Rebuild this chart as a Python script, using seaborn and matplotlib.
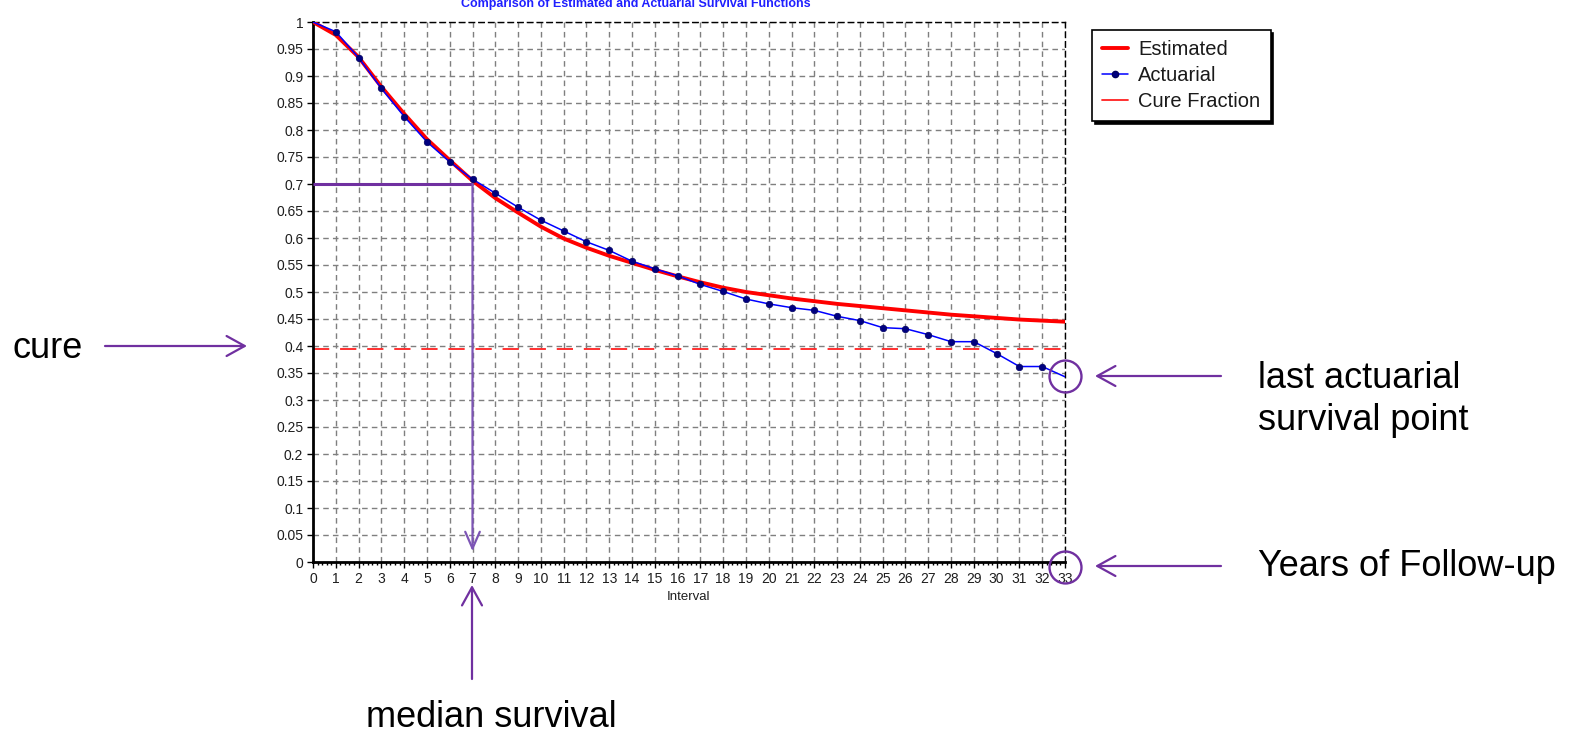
import numpy as np
import pandas as pd
import matplotlib
matplotlib.use("Agg")
import matplotlib.pyplot as plt
import seaborn as sns
from matplotlib.lines import Line2D
from matplotlib.ticker import MultipleLocator
from matplotlib.patches import FancyArrowPatch

# ---------------- data ----------------
intervals = list(range(34))
estimated = [1.0, 0.976, 0.935, 0.880, 0.830, 0.783, 0.744, 0.706, 0.674, 0.647,
             0.621, 0.599, 0.582, 0.567, 0.554, 0.541, 0.529, 0.518, 0.508, 0.500,
             0.494, 0.488, 0.483, 0.478, 0.474, 0.470, 0.466, 0.462, 0.458, 0.455,
             0.452, 0.449, 0.447, 0.445]
actuarial = [1.0, 0.982, 0.934, 0.877, 0.825, 0.778, 0.741, 0.709, 0.683, 0.657,
             0.633, 0.613, 0.593, 0.577, 0.557, 0.543, 0.530, 0.514, 0.501, 0.487,
             0.478, 0.471, 0.466, 0.455, 0.447, 0.434, 0.432, 0.421, 0.408, 0.408,
             0.386, 0.362, 0.362, 0.343]
cure_fraction = 0.395
median_interval = 7
median_level = 0.7
y_ticks = [round(v, 2) for v in np.arange(0, 1.0001, 0.05)]
x_ticks = intervals

title_text = "Comparison of Estimated and Actuarial Survival Functions"
legend_labels = ["Estimated", "Actuarial", "Cure Fraction"]

df = pd.DataFrame({"Interval": intervals, "Estimated": estimated, "Actuarial": actuarial})

# ---------------- style ----------------
sns.set_theme(style="white")
plt.rcParams["font.family"] = ["Liberation Sans", "DejaVu Sans"]

W, H = 1572, 729
fig = plt.figure(figsize=(W / 100, H / 100), dpi=100)
fig.patch.set_facecolor("white")

def fx(px):
    return px / W

def fy(py):
    return 1 - py / H

ax = fig.add_axes([fx(313), fy(562), (1065 - 313) / W, (562 - 22) / H])
ax.set_facecolor("white")

purple = "#7030A0"
red = "#FF0000"
blue = "#0000FF"

# grid
ax.set_xlim(0, 33)
ax.set_ylim(0, 1)
ax.set_xticks(x_ticks)
ax.set_yticks(y_ticks)
ax.set_yticklabels(["%g" % v for v in y_ticks])
ax.xaxis.set_minor_locator(MultipleLocator(0.2))
ax.grid(True, which="major", color="#7f7f7f", linestyle=(0, (4, 3)), linewidth=1.0)
ax.set_axisbelow(True)

# cure fraction line
ax.axhline(cure_fraction, color="#FF2020", linestyle=(0, (9, 6)), linewidth=1.3, zorder=2)

# estimated
sns.lineplot(data=df, x="Interval", y="Estimated", ax=ax, color=red, linewidth=2.8, zorder=3)
# actuarial
sns.lineplot(data=df, x="Interval", y="Actuarial", ax=ax, color=blue, linewidth=1.1, zorder=4)
sns.scatterplot(data=df.iloc[1:33], x="Interval", y="Actuarial", ax=ax, color="#000080",
                s=22, edgecolor="#000060", linewidth=0.5, zorder=5)

# median survival guide lines
ax.plot([0, median_interval], [median_level, median_level], color=purple, linewidth=2.2, zorder=6,
        solid_capstyle="butt")
ax.add_patch(FancyArrowPatch((median_interval, median_level), (median_interval, 0.02),
                             arrowstyle="->,head_length=0.8,head_width=0.35", mutation_scale=15,
                             color="#7d55b5", lw=1.6, shrinkA=0, shrinkB=0, zorder=6))

# spines
for s in ["left", "bottom"]:
    ax.spines[s].set_color("black")
    ax.spines[s].set_linewidth(2.0)
for s in ["top", "right"]:
    ax.spines[s].set_color("black")
    ax.spines[s].set_linewidth(1.0)
    ax.spines[s].set_linestyle((0, (4, 3)))

ax.tick_params(axis="both", which="major", direction="out", length=4, width=1, color="black",
               labelsize=10, labelcolor="#1e1e1e", pad=3, bottom=True, left=True)
ax.tick_params(axis="x", which="minor", direction="out", length=2.5, width=1, color="black",
               bottom=True)
for lab in ax.get_xticklabels() + ax.get_yticklabels():
    lab.set_family(["Liberation Sans Narrow", "Liberation Sans", "DejaVu Sans"])
ax.set_xlabel("Interval", fontsize=9.5, color="#1e1e1e", labelpad=4,
              family=["Liberation Sans Narrow", "Liberation Sans", "DejaVu Sans"])
ax.set_ylabel("")

# legend
handles = [
    Line2D([], [], color=red, linewidth=2.8),
    Line2D([], [], color=blue, linewidth=1.1, marker="o", markersize=4.5,
           markerfacecolor="#000080", markeredgecolor="#000060"),
    Line2D([], [], color="#FF2020", linewidth=1.3),
]
leg = fig.legend(handles, legend_labels, loc="upper left",
                 bbox_to_anchor=(fx(1092), fy(30)), bbox_transform=fig.transFigure,
                 fontsize=14.5, frameon=True, fancybox=False,
                 shadow={"color": "black", "alpha": 1.0},
                 edgecolor="black", framealpha=1, handlelength=1.3,
                 handletextpad=0.5, borderpad=0.5, labelspacing=0.35,
                 borderaxespad=0)
leg.get_frame().set_linewidth(1.2)
for t in leg.get_texts():
    t.set_color("#1a1a1a")

# clipped title at top
fig.text(fx(636), fy(7), title_text, ha="center", va="baseline", fontsize=9,
         color="#2020ff", fontweight="bold")

# annotations outside the chart
txt_kw = dict(fontsize=26, color="black")
fig.text(fx(12), fy(348), "cure", ha="left", va="center", **txt_kw)
fig.text(fx(1258), fy(378), "last actuarial", ha="left", va="center", **txt_kw)
fig.text(fx(1258), fy(421), "survival point", ha="left", va="center", **txt_kw)
fig.text(fx(1258), fy(567), "Years of Follow-up", ha="left", va="center", **txt_kw)
fig.text(fx(491), fy(727), "median survival", ha="center", va="baseline", **txt_kw)

def fig_arrow(x0, y0, x1, y1):
    fig.add_artist(FancyArrowPatch(
        (fx(x0), fy(y0)), (fx(x1), fy(y1)), transform=fig.transFigure,
        arrowstyle="->,head_length=0.87,head_width=0.48", mutation_scale=15,
        color=purple, lw=1.6, shrinkA=0, shrinkB=0))

fig_arrow(105, 346, 247, 346)
fig_arrow(1221, 376, 1095, 376)
fig_arrow(1221, 566, 1095, 566)
fig_arrow(472, 679, 472, 585)

# circles
for cx, cy in [(1065, 376), (1065, 567)]:
    fig.add_artist(Line2D([fx(cx)], [fy(cy)], transform=fig.transFigure, marker="o",
                          markersize=23, markerfacecolor="none", markeredgecolor=purple,
                          markeredgewidth=1.7, linestyle="none"))

fig.savefig("out.png", dpi=100, facecolor="white")
